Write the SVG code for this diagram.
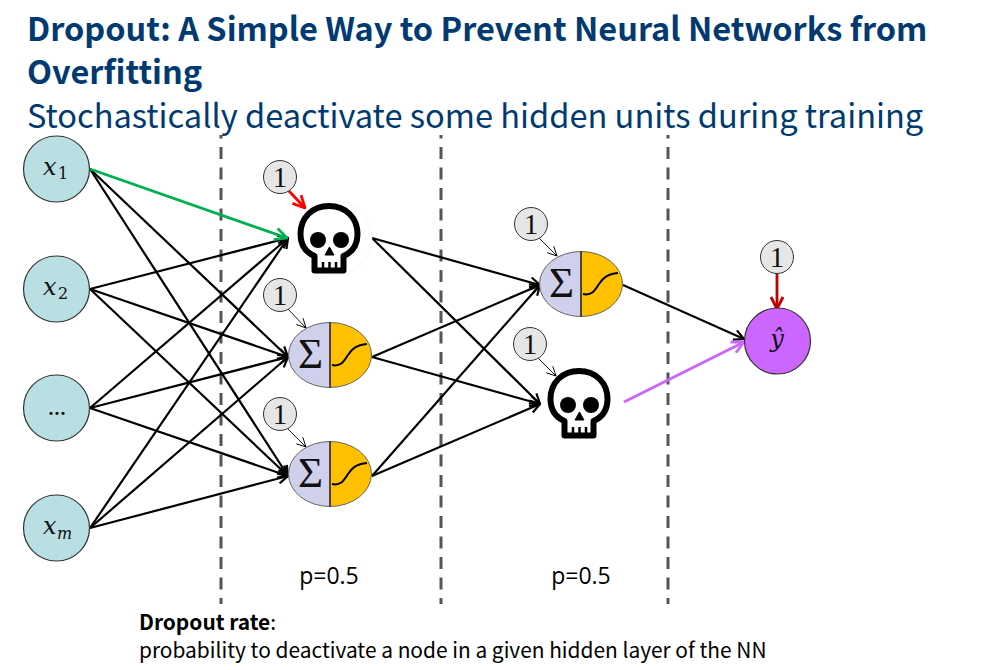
<svg xmlns="http://www.w3.org/2000/svg" width="982" height="670" viewBox="0 0 982 670">
<style>
.t{font-family:"Noto Sans CJK SC","Noto Sans",sans-serif}
.title{font-size:32.5px;font-weight:700;fill:#003a70}
.sub{font-size:32.6px;fill:#003a70}
.body{font-size:20.9px;fill:#000}
.p{font-size:23px;fill:#000;font-family:"Open Sans","Noto Sans",sans-serif}
.m{font-family:"DejaVu Serif","Liberation Serif",serif;fill:#111}
.n{font-family:"Liberation Serif","DejaVu Serif",serif;fill:#111;font-size:29px}
.i{font-style:italic;font-size:24px}
.input{fill:#b9dfe3;stroke:#333;stroke-width:1.2}
.one{fill:#e6e6e6;stroke:#333;stroke-width:1}
.c{fill:none;stroke:#000;stroke-width:2.2;marker-end:url(#a)}
.thin{fill:none;stroke:#000;stroke-width:.9;marker-end:url(#at)}
.div{stroke:#555;stroke-width:3;stroke-dasharray:12 8.500;stroke-dashoffset:8.500}
</style>
<defs>
<marker id="a" viewBox="0 0 12 12" refX="11" refY="6" markerWidth="12" markerHeight="12" markerUnits="userSpaceOnUse" orient="auto"><path d="M1 1L11 6L1 11" fill="none" stroke="#000" stroke-width="2.2"/></marker>
<marker id="at" viewBox="0 0 12 12" refX="11" refY="6" markerWidth="11" markerHeight="11" markerUnits="userSpaceOnUse" orient="auto"><path d="M1 1L11 6L1 11" fill="none" stroke="#000" stroke-width="1"/></marker>
<marker id="ag" viewBox="0 0 14 14" refX="13" refY="7" markerWidth="14" markerHeight="14" markerUnits="userSpaceOnUse" orient="auto"><path d="M1 1L13 7L1 13" fill="none" stroke="#00b050" stroke-width="2.8"/></marker>
<marker id="ap" viewBox="0 0 14 14" refX="13" refY="7" markerWidth="14" markerHeight="14" markerUnits="userSpaceOnUse" orient="auto"><path d="M1 1L13 7L1 13" fill="none" stroke="#cc66ff" stroke-width="2.8"/></marker>
<marker id="ar" viewBox="0 0 14 14" refX="13" refY="7" markerWidth="14" markerHeight="14" markerUnits="userSpaceOnUse" orient="auto"><path d="M1 1L13 7L1 13" fill="none" stroke="#ff0000" stroke-width="2.8"/></marker>
<marker id="ad" viewBox="0 0 14 14" refX="13" refY="7" markerWidth="14" markerHeight="14" markerUnits="userSpaceOnUse" orient="auto"><path d="M1 1L13 7L1 13" fill="none" stroke="#c00000" stroke-width="2.8"/></marker>
<symbol id="skull" viewBox="0 0 64 72" width="64" height="72" overflow="visible">
<path d="M32 3C15 3 3.500 15 3.500 31C3.500 41 8 49 17.500 53V67.500H46.500V53C56 49 60.500 41 60.500 31C60.500 15 49 3 32 3Z" fill="#fff" stroke="#000" stroke-width="6" stroke-linejoin="round"/>
<circle cx="21" cy="37" r="8"/><circle cx="44" cy="37" r="8"/>
<path d="M32.500 44L37 52H28Z" stroke="#000" stroke-linejoin="round"/>
<path d="M26 59V68M32.500 59V68M39 59V68" stroke="#000" stroke-width="2.500"/>
</symbol>
<symbol id="neuron" viewBox="0 0 84 66" width="84" height="66" overflow="visible">
<path d="M42 .5A41.500 32.500 0 0 0 42 65.500Z" fill="#cfd0ec"/>
<path d="M42 .5A41.500 32.500 0 0 1 42 65.500Z" fill="#ffc000"/>
<ellipse cx="42" cy="33" rx="41.500" ry="32.500" fill="none" stroke="#666" stroke-width="1"/>
<path d="M42 .5V65.500" stroke="#000" stroke-width="1.300"/>
<text x="22.500" y="46" text-anchor="middle" class="n" style="font-size:43px">Σ</text>
<path d="M44 43C53 45 56 39 60 33C64 27 68 23 79 22" fill="none" stroke="#000" stroke-width="2"/>
</symbol>
</defs>
<rect width="982" height="670" fill="#fff"/>
<g id="title">
<text class="t title" x="27" y="41">Dropout: A Simple Way to Prevent Neural Networks from</text>
<text class="t title" x="27" y="84">Overfitting</text>
<text class="t sub" x="27" y="128">Stochastically deactivate some hidden units during training</text>
</g>
<g id="dividers">
<line class="div" x1="221" y1="135" x2="221" y2="604"/>
<line class="div" x1="441" y1="135" x2="441" y2="604"/>
<line class="div" x1="668" y1="135" x2="668" y2="604"/>
</g>
<g id="connectors">
<path class="c" d="M90 169L288 357"/><path class="c" d="M90 169L288 476"/>
<path class="c" d="M90 289L288 238"/><path class="c" d="M90 289L288 357"/><path class="c" d="M90 289L288 476"/>
<path class="c" d="M90 408L288 238"/><path class="c" d="M90 408L288 357"/><path class="c" d="M90 408L288 476"/>
<path class="c" d="M90 528L288 238"/><path class="c" d="M90 528L288 357"/><path class="c" d="M90 528L288 476"/>
<path d="M90 169L287 238" fill="none" stroke="#00b050" stroke-width="2.800" marker-end="url(#ag)"/>
<path class="c" d="M372 238L540 285"/><path class="c" d="M372 238L540 404"/>
<path class="c" d="M372 357L540 285"/><path class="c" d="M372 357L540 404"/>
<path class="c" d="M372 476L540 285"/><path class="c" d="M372 476L540 404"/>
<path d="M624 402L744 342" fill="none" stroke="#cc66ff" stroke-width="3" marker-end="url(#ap)"/>
<path class="c" d="M623 285L744 339" style="stroke-width:2"/>
<path d="M288 190L305 208" fill="none" stroke="#f00" stroke-width="2.800" marker-end="url(#ar)"/>
<path d="M777 272V309" fill="none" stroke="#c00000" stroke-width="2.800" marker-end="url(#ad)"/>
<path class="thin" d="M288 309L306 328"/>
<path class="thin" d="M288 429L306 447"/>
<path class="thin" d="M539 238L557 256"/>
<path class="thin" d="M538 358L556 376"/>
</g>
<g id="x1"><circle class="input" cx="56.500" cy="169" r="33"/><text class="m i" x="43" y="175">x</text><text class="m" x="58" y="179" font-size="16">1</text></g>
<g id="x2"><circle class="input" cx="56.500" cy="289" r="33"/><text class="m i" x="43" y="295">x</text><text class="m" x="58" y="299" font-size="16">2</text></g>
<g id="xdots"><circle class="input" cx="56.500" cy="408" r="33"/><text class="m" x="57" y="415" text-anchor="middle" font-size="17" font-weight="700">...</text></g>
<g id="xm"><circle class="input" cx="56.500" cy="528" r="33"/><text class="m i" x="43" y="534">x</text><text class="m" x="57" y="539" font-size="16" font-style="italic">m</text></g>
<g id="h1-dropped"><circle cx="335" cy="238" r="37" fill="#fff" stroke="#eee" stroke-width=".6"/><use href="#skull" x="297" y="203"/></g>
<g id="h2"><use href="#neuron" x="288" y="322"/></g>
<g id="h3"><use href="#neuron" x="288" y="441"/></g>
<g id="h4"><use href="#neuron" x="539" y="251"/></g>
<g id="h5-dropped"><use href="#skull" x="547" y="368"/></g>
<g id="yhat"><circle cx="777.500" cy="341" r="33" fill="#cc66ff" stroke="#333" stroke-width="1.200"/><text class="m i" x="777" y="347" text-anchor="middle">ŷ</text></g>
<g id="one-a"><circle class="one" cx="280" cy="177" r="16.500"/><text class="n" x="280" y="187" text-anchor="middle">1</text></g>
<g id="one-b"><circle class="one" cx="280" cy="295" r="16.500"/><text class="n" x="280" y="305" text-anchor="middle">1</text></g>
<g id="one-c"><circle class="one" cx="280" cy="414" r="16.500"/><text class="n" x="280" y="424" text-anchor="middle">1</text></g>
<g id="one-d"><circle class="one" cx="531" cy="224" r="16.500"/><text class="n" x="531" y="234" text-anchor="middle">1</text></g>
<g id="one-e"><circle class="one" cx="530" cy="344" r="16.500"/><text class="n" x="530" y="354" text-anchor="middle">1</text></g>
<g id="one-f"><circle class="one" cx="777" cy="257" r="16.500"/><text class="n" x="777" y="267" text-anchor="middle">1</text></g>
<g id="labels">
<text class="t p" x="329" y="584" text-anchor="middle">p=0.5</text>
<text class="t p" x="581" y="584" text-anchor="middle">p=0.5</text>
<text class="t body" x="139" y="630"><tspan font-weight="700">Dropout rate</tspan>:</text>
<text class="t body" x="139" y="658">probability to deactivate a node in a given hidden layer of the NN</text>
</g>
</svg>
